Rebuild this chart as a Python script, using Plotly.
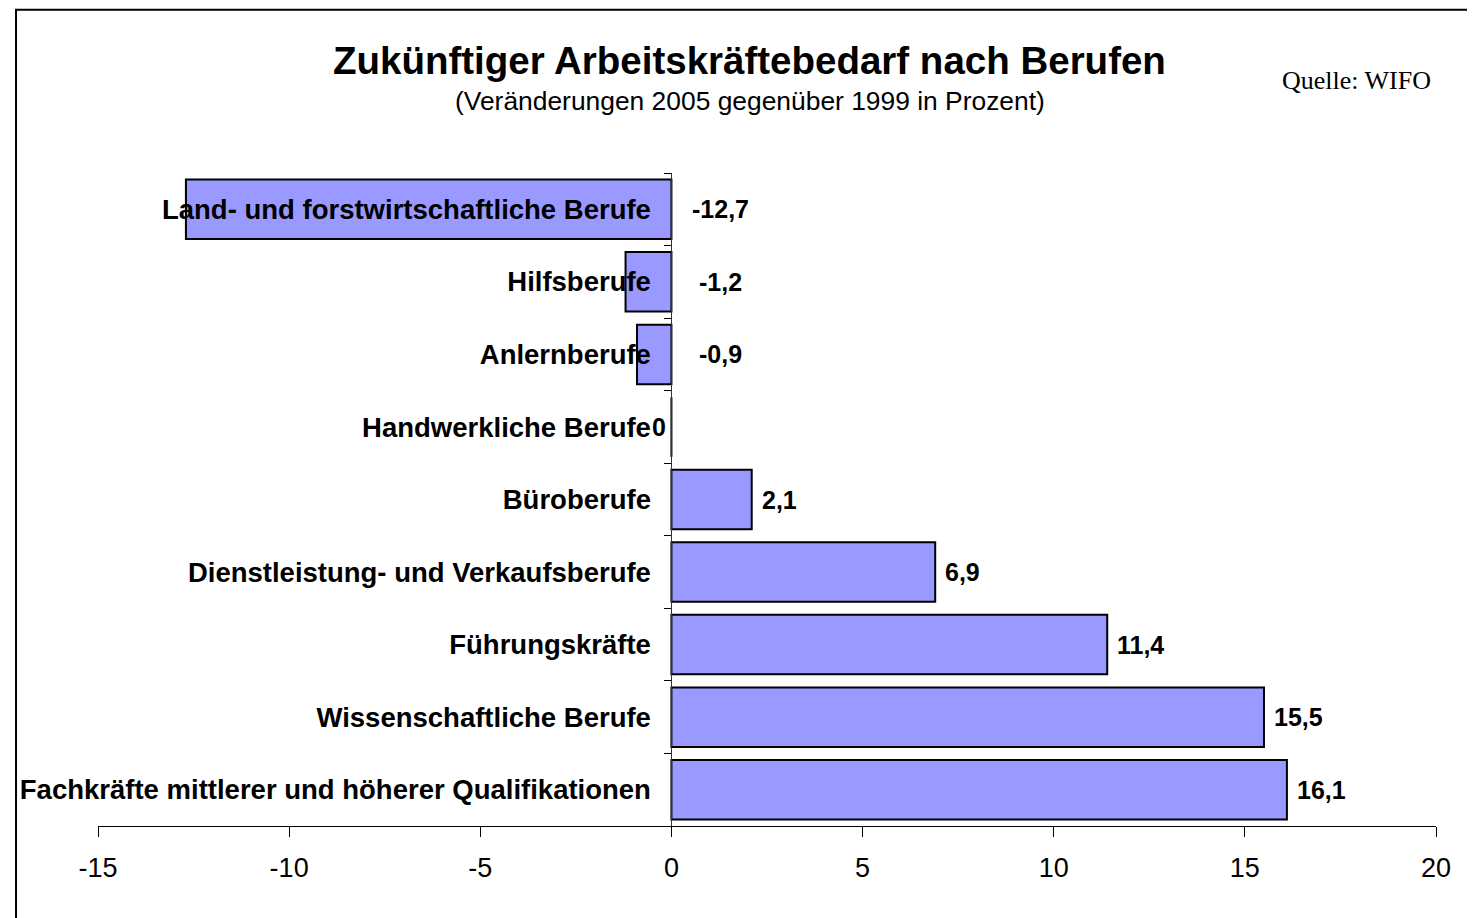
import plotly.graph_objects as go

categories = [
    "Land- und forstwirtschaftliche Berufe",
    "Hilfsberufe",
    "Anlernberufe",
    "Handwerkliche Berufe",
    "Büroberufe",
    "Dienstleistung- und Verkaufsberufe",
    "Führungskräfte",
    "Wissenschaftliche Berufe",
    "Fachkräfte mittlerer und höherer Qualifikationen",
]
values = [-12.7, -1.2, -0.9, 0.0, 2.1, 6.9, 11.4, 15.5, 16.1]
x_ticks = [-15, -10, -5, 0, 5, 10, 15, 20]
x_tick_labels = ["-15", "-10", "-5", "0", "5", "10", "15", "20"]

title_text = "Zukünftiger Arbeitskräftebedarf nach Berufen"
subtitle_text = "(Veränderungen 2005 gegenüber 1999 in Prozent)"
source_text = "Quelle: WIFO"

OFF = 8  # page body margin
W, H = 1475 - OFF, 918 - OFF
# plot area in reference-page pixels
PL, PR, PT, PB = 94.7, 1436.3, 172.7, 826.3
ML, MT = PL - OFF, PT - OFF
MR, MB = W - (PR - OFF), H - (PB - OFF)
SANS = "Liberation Sans, Arial, sans-serif"
SERIF = "Liberation Serif, Times New Roman, serif"

def fmt(v):
    if v == 0:
        return "0"
    return f"{v:.1f}".replace(".", ",")

pw = PR - PL
ph = PB - PT

def px_to_paper_x(px):
    return (px - PL) / pw

def px_to_paper_y(py):
    return (PB - py) / ph

fig = go.Figure()
fig.add_trace(go.Bar(
    x=values,
    y=categories,
    orientation="h",
    marker=dict(color="#9999FF", line=dict(color="black", width=2)),
    hoverinfo="skip",
))

vfont = dict(family=SANS, size=25, color="black", weight="bold")
annotations = []
for c, v in zip(categories, values):
    if v > 0:
        annotations.append(dict(x=v, y=c, xref="x", yref="y", text=fmt(v), showarrow=False,
                                xanchor="left", xshift=8, font=vfont))
    elif v < 0:
        annotations.append(dict(x=0, y=c, xref="x", yref="y", text=fmt(v), showarrow=False,
                                xanchor="center", xshift=49, font=vfont))
    else:
        annotations.append(dict(x=0, y=c, xref="x", yref="y", text=fmt(v), showarrow=False,
                                xanchor="left", xshift=-21, font=vfont))

annotations += [
    dict(x=px_to_paper_x(747.5), y=px_to_paper_y(60), xref="paper", yref="paper",
         text=title_text, showarrow=False, xanchor="center", yanchor="middle",
         font=dict(family=SANS, size=38.5, color="black", weight="bold")),
    dict(x=px_to_paper_x(748.5), y=px_to_paper_y(101), xref="paper", yref="paper",
         text=subtitle_text, showarrow=False, xanchor="center", yanchor="middle",
         font=dict(family=SANS, size=26.4, color="black")),
    dict(x=px_to_paper_x(1433), y=px_to_paper_y(80), xref="paper", yref="paper",
         text=source_text, showarrow=False, xanchor="right", yanchor="middle",
         font=dict(family=SERIF, size=26, color="black")),
]

zero_pos = (0 - x_ticks[0]) / (x_ticks[-1] - x_ticks[0])

fig.update_layout(
    width=W, height=H,
    margin=dict(l=ML, r=MR, t=MT, b=MB, pad=0),
    paper_bgcolor="white", plot_bgcolor="white",
    showlegend=False,
    bargap=0.18,
    annotations=annotations,
    xaxis=dict(
        range=[x_ticks[0], x_ticks[-1]], tickvals=x_ticks, ticktext=x_tick_labels,
        showgrid=False, zeroline=False,
        showline=True, linecolor="black", linewidth=1,
        ticks="outside", ticklen=10, tickcolor="black", tickwidth=1,
        ticklabelstandoff=8,
        tickfont=dict(family=SANS, size=27, color="black"),
        anchor="y", fixedrange=True,
    ),
    yaxis=dict(
        type="category", categoryorder="array", categoryarray=categories,
        autorange="reversed",
        anchor="free", position=zero_pos,
        showgrid=False, zeroline=False,
        showline=True, linecolor="#333333", linewidth=1,
        ticks="outside", ticklen=7, tickcolor="black", tickwidth=1,
        tickson="boundaries",
        ticklabelstandoff=15,
        tickfont=dict(family=SANS, size=27.5, color="black", weight="bold"),
        fixedrange=True,
    ),
    shapes=[dict(type="rect", xref="paper", yref="paper",
                 x0=px_to_paper_x(12.5), x1=px_to_paper_x(1490),
                 y0=px_to_paper_y(930), y1=px_to_paper_y(9.2),
                 line=dict(color="black", width=2), fillcolor="rgba(0,0,0,0)",
                 layer="below")],
)

fig.write_html("out.html")
